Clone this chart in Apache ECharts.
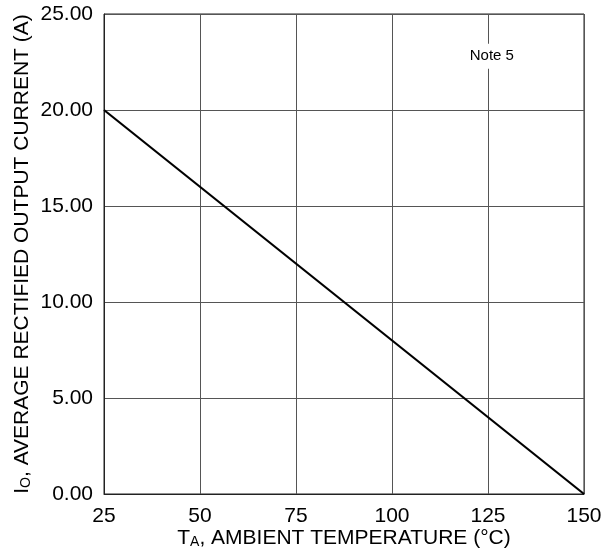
<!DOCTYPE html>
<html><head><meta charset="utf-8">
<script src="https://cdn.jsdelivr.net/npm/echarts@6/dist/echarts.min.js"></script>
<style>html,body{margin:0;padding:0;background:#fff}#c{width:616px;height:550px}</style>
</head><body><div id="c"></div>
<script>
const temperature = [25, 150];
const current = [20, 0];
const xTicks = [25, 50, 75, 100, 125, 150];
const yTicks = [0, 5, 10, 15, 20, 25];
const noteText = 'Note 5';
const notePos = [126, 22.8];

const chart = echarts.init(document.getElementById('c'));
const F = 'Liberation Sans, Arial, sans-serif';
const richName = {
  m: {fontFamily: F, fontSize: 21, color: '#000', lineHeight: 22, verticalAlign: 'middle'},
  s: {fontFamily: F, fontSize: 14, color: '#000', lineHeight: 6, verticalAlign: 'bottom'}
};
chart.setOption({
  animation: false,
  grid: {left: 104, right: 32, top: 14, bottom: 56, show: true, borderColor: '#222', borderWidth: 1,
    containLabel: false, outerBoundsMode: 'none'},
  xAxis: {
    type: 'value', min: 25, max: 150, interval: 25,
    axisLine: {show: true, lineStyle: {color: '#222'}},
    axisTick: {show: false},
    axisLabel: {color: '#000', fontFamily: F, fontSize: 21, margin: 12},
    splitLine: {show: true, lineStyle: {color: '#555', width: 1}},
    name: '{m|T}{s|A}{m|, AMBIENT TEMPERATURE (°C)}',
    nameLocation: 'middle', nameGap: 33, nameMoveOverlap: false,
    nameTextStyle: {rich: richName}
  },
  yAxis: {
    type: 'value', min: 0, max: 25, interval: 5,
    axisLine: {show: true, lineStyle: {color: '#222'}},
    axisTick: {show: false},
    axisLabel: {color: '#000', fontFamily: F, fontSize: 21, margin: 11, formatter: v => v.toFixed(2)},
    splitLine: {show: true, lineStyle: {color: '#555', width: 1}},
    name: '{m|I}{s|O}{m|, AVERAGE RECTIFIED OUTPUT CURRENT (A)}',
    nameLocation: 'middle', nameGap: 71, nameRotate: 90, nameMoveOverlap: false,
    nameTextStyle: {rich: richName}
  },
  series: [{
    type: 'line',
    data: temperature.map((t, i) => [t, current[i]]),
    symbol: 'none',
    lineStyle: {color: '#000', width: 2.2},
    markPoint: {
      symbol: 'rect', symbolSize: 1,
      itemStyle: {color: 'rgba(0,0,0,0)'},
      label: {show: true, position: 'inside', formatter: noteText, color: '#000', fontFamily: F, fontSize: 15,
        backgroundColor: '#fff', padding: [5, 3]},
      data: [{coord: notePos}]
    }
  }]
});
</script></body></html>
